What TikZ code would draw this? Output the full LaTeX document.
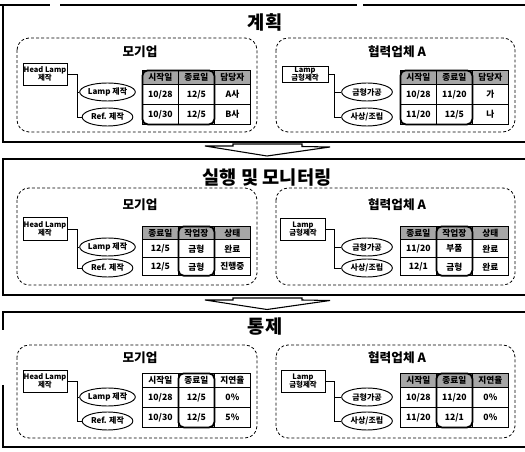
\documentclass[tikz,border=0pt]{standalone}
\usepackage{fontspec}
\setmainfont{Noto Sans CJK KR}
\usetikzlibrary{matrix,shapes.geometric}
\tikzset{
 panel/.style={line width=1.1pt},
 dbox/.style={draw, line width=0.6pt, dash pattern=on 2.2pt off 1.6pt, rounded corners=9pt},
 headbox/.style={draw, line width=0.7pt, inner sep=0pt, align=center, font=\bfseries\fontsize{5.6}{6.4}\selectfont},
 oval/.style={draw, ellipse, line width=0.7pt, inner sep=0pt, minimum width=38pt, minimum height=13.5pt, font=\bfseries\fontsize{6}{7}\selectfont},
 link/.style={line width=0.6pt},
 ttl/.style={font=\bfseries\fontsize{14}{16}\selectfont},
 sub/.style={font=\bfseries\fontsize{9.5}{11}\selectfont},
 tbl/.style={matrix of nodes, anchor=north west, inner sep=0pt, outer sep=0pt, column sep=-0.6pt, row sep=-0.6pt,
   nodes={draw, line width=0.6pt, inner sep=0pt, minimum width=27pt, font=\bfseries\fontsize{6.5}{7}\selectfont, anchor=center}},
 hdr/.style={fill=black!35},
 hl/.style={line width=1.3pt, rounded corners=4pt},
 arr/.style={draw, line width=0.8pt, fill=white, line join=miter},
}
\begin{document}
\begin{tikzpicture}[x=0.75pt, y=-0.75pt]
\useasboundingbox (0,0) rectangle (525,452);
% ---------- panel frames ----------
\draw[panel] (0,5) -- (50,5);
\draw[panel] (60,5) -- (357,5);
\draw[panel] (363,5) -- (525,5);
\draw[panel] (3,5) -- (3,142) -- (525,142);
\draw[panel] (525,159) -- (3,159) -- (3,295) -- (525,295);
\draw[panel] (525,312) -- (3,312) -- (3,330);
\draw[panel] (3,385) -- (3,447) -- (525,447);
% ---------- arrows ----------
\draw[arr] (205,146) -- (233,146) -- (233,144) -- (302,144) -- (302,146.5) -- (330,147) -- (267,156) -- cycle;
\draw[arr] (205,300) -- (233,300) -- (233,298) -- (302,298) -- (302,300) -- (330,300.5) -- (267,309.5) -- cycle;
% ---------- titles ----------
\node[ttl] (T1) at (265,22) {계획};
\node[ttl] (T2) at (267,178) {실행 및 모니터링};
\node[ttl] (T3) at (265,327) {통제};

% ================= PANEL 1 =================
\draw[dbox] (17,38) rectangle (257,132);
\draw[dbox] (276,38) rectangle (515,132);
\node[sub] (s1a) at (140,52) {모기업};
\node[sub] (s1b) at (397,52) {협력업체 A};
% left
\node[headbox, minimum width=33pt, minimum height=16.5pt] (h1a) at (45,74) {Head Lamp\\제작};
\node[oval] (o1a) at (107.5,92) {Lamp 제작};
\node[oval] (o1b) at (107.5,117) {Ref. 제작};
\coordinate (j1a) at (77,0);
\draw[link] (h1a.east) -| (j1a |- o1b.west) -- (o1b.west);
\draw[link] (j1a |- o1a.west) -- (o1a.west);
\matrix (t1a) [tbl, row 1/.style={nodes={hdr, minimum height=10.5pt}}, nodes={minimum height=15pt}] at (142,70) {
시작일 & 종료일 & 담당자 \\
10/28 & 12/5 & A사 \\
10/30 & 12/5 & B사 \\
};
\draw[hl] (t1a-1-1.north west) rectangle (t1a-3-2.south east);
% right
\node[headbox, minimum width=34.5pt, minimum height=12pt] (h1b) at (305,74) {Lamp\\금형제작};
\node[oval] (o1c) at (367,92) {금형가공};
\node[oval] (o1d) at (367,117) {사상/조립};
\coordinate (j1b) at (334,0);
\draw[link] (h1b.east) -| (j1b |- o1d.west) -- (o1d.west);
\draw[link] (j1b |- o1c.west) -- (o1c.west);
\matrix (t1b) [tbl, row 1/.style={nodes={hdr, minimum height=10.5pt}}, nodes={minimum height=15pt}] at (400,70) {
시작일 & 종료일 & 담당자 \\
10/28 & 11/20 & 가 \\
11/20 & 12/5 & 나 \\
};
\draw[hl] (t1b-1-1.north west) rectangle (t1b-3-2.south east);

% ================= PANEL 2 =================
\draw[dbox] (17,188) rectangle (257,285);
\draw[dbox] (276,188) rectangle (515,285);
\node[sub] (s2a) at (140,205) {모기업};
\node[sub] (s2b) at (397,205) {협력업체 A};
\node[headbox, minimum width=33pt, minimum height=17pt] (h2a) at (45,229) {Head Lamp\\제작};
\node[oval] (o2a) at (107.5,247) {Lamp 제작};
\node[oval] (o2b) at (107.5,268) {Ref. 제작};
\coordinate (j2a) at (77,0);
\draw[link] (h2a.east) -| (j2a |- o2b.west) -- (o2b.west);
\draw[link] (j2a |- o2a.west) -- (o2a.west);
\matrix (t2a) [tbl, row 1/.style={nodes={hdr, minimum height=10pt}}, nodes={minimum height=13.5pt}] at (142,226) {
종료일 & 작업장 & 상태 \\
12/5 & 금형 & 완료 \\
12/5 & 금형 & 진행중 \\
};
\draw[hl] (t2a-1-2.north west) rectangle (t2a-3-2.south east);
\node[headbox, minimum width=34pt, minimum height=16.5pt] (h2b) at (303,229) {Lamp\\금형제작};
\node[oval] (o2c) at (367,247) {금형가공};
\node[oval] (o2d) at (367,268) {사상/조립};
\coordinate (j2b) at (334,0);
\draw[link] (h2b.east) -| (j2b |- o2d.west) -- (o2d.west);
\draw[link] (j2b |- o2c.west) -- (o2c.west);
\matrix (t2b) [tbl, row 1/.style={nodes={hdr, minimum height=10pt}}, nodes={minimum height=13.5pt}] at (400,226) {
종료일 & 작업장 & 상태 \\
11/20 & 부품 & 완료 \\
12/1 & 금형 & 완료 \\
};
\draw[hl] (t2b-1-2.north west) rectangle (t2b-3-2.south east);

% ================= PANEL 3 =================
\draw[dbox] (17,345) rectangle (257,438);
\draw[dbox] (276,345) rectangle (515,438);
\node[sub] (s3a) at (140,358) {모기업};
\node[sub] (s3b) at (397,358) {협력업체 A};
\node[headbox, minimum width=33pt, minimum height=16.5pt] (h3a) at (45,381) {Head Lamp\\제작};
\node[oval] (o3a) at (107.5,397) {Lamp 제작};
\node[oval] (o3b) at (107.5,421) {Ref. 제작};
\coordinate (j3a) at (77,0);
\draw[link] (h3a.east) -| (j3a |- o3b.west) -- (o3b.west);
\draw[link] (j3a |- o3a.west) -- (o3a.west);
\matrix (t3a) [tbl, row 1/.style={nodes={minimum height=10.5pt}}, nodes={minimum height=15pt}] at (142,373) {
시작일 & 종료일 & 지연율 \\
10/28 & 12/5 & 0\% \\
10/30 & 12/5 & 5\% \\
};
\draw[hl] (t3a-1-2.north west) rectangle (t3a-3-2.south east);
\node[headbox, minimum width=33pt, minimum height=16.5pt] (h3b) at (303,381) {Lamp\\금형제작};
\node[oval] (o3c) at (367,397) {금형가공};
\node[oval] (o3d) at (367,421) {사상/조립};
\coordinate (j3b) at (334,0);
\draw[link] (h3b.east) -| (j3b |- o3d.west) -- (o3d.west);
\draw[link] (j3b |- o3c.west) -- (o3c.west);
\matrix (t3b) [tbl, row 1/.style={nodes={hdr, minimum height=10.5pt}}, nodes={minimum height=15pt}] at (400,373) {
시작일 & 종료일 & 지연율 \\
10/28 & 11/20 & 0\% \\
11/20 & 12/1 & 0\% \\
};
\draw[hl] (t3b-1-2.north west) rectangle (t3b-3-2.south east);
\end{tikzpicture}
\end{document}
